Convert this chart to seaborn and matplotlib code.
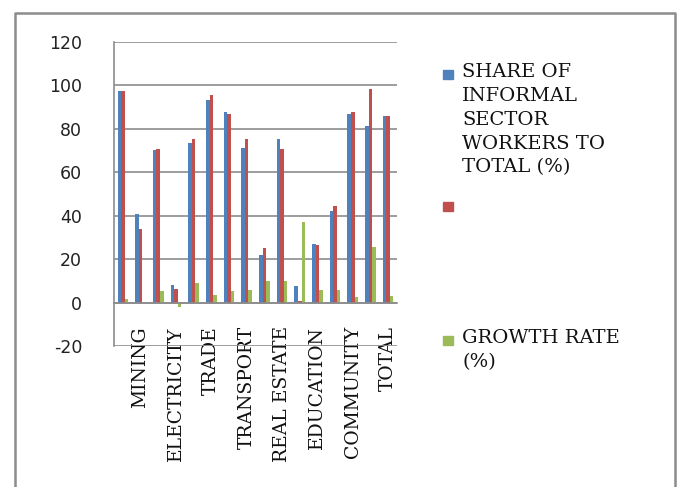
import numpy as np
import pandas as pd
import matplotlib
matplotlib.use("Agg")
import matplotlib.pyplot as plt
from matplotlib.patches import Rectangle
from matplotlib.lines import Line2D
import seaborn as sns

sectors = ["AGRICULTURE", "MINING", "MANUFACTURING", "ELECTRICITY",
           "CONSTRUCTION", "TRADE", "HOTELS", "TRANSPORT", "FINANCE",
           "REAL ESTATE", "PUBLIC ADMINISTRATION", "EDUCATION", "HEALTH",
           "COMMUNITY", "HOUSEHOLDS", "TOTAL"]
share_a = [97.2, 40.6, 70.1, 8.3, 73.5, 93.1, 87.7, 71.4,
           21.9, 75.5, 7.7, 27.1, 42.4, 86.7, 81.3, 86.1]
share_b = [97.2, 33.7, 70.7, 6.4, 75.5, 95.4, 86.7, 75.5,
           25.3, 70.7, 0.8, 26.5, 44.3, 87.9, 98.5, 86.1]
growth = [1.8, 0.0, 5.4, -2.0, 8.9, 3.5, 5.4, 6.0,
          10.1, 10.1, 37.2, 6.0, 6.0, 2.5, 25.4, 3.1]

series_names = ["share_a", "share_b", "growth"]
legend_labels = ["SHARE OF\nINFORMAL\nSECTOR\nWORKERS TO\nTOTAL (%)", "",
                 "GROWTH RATE\n(%)"]
colors = ["#4F81BD", "#C0504D", "#9BBB59"]
yticks = [-20, 0, 20, 40, 60, 80, 100, 120]

df = pd.DataFrame({"sector": sectors * 3,
                   "value": share_a + share_b + growth,
                   "series": np.repeat(series_names, len(sectors))})

sns.set_theme(style="white")
plt.rcParams["font.family"] = ["DejaVu Sans"]
grey = "#8c8c8c"

fig = plt.figure(figsize=(6.81, 4.87), dpi=100)
ax = fig.add_axes([0.1674, 0.2895, 0.4156, 0.6243])

sns.barplot(data=df, x="sector", y="value", hue="series", order=sectors,
            hue_order=series_names, palette=colors, width=0.6, gap=0,
            saturation=1, errorbar=None, legend=False, linewidth=0, ax=ax)

ax.set_ylim(-20, 120)
ax.set_yticks(yticks)
ax.set_yticklabels([str(v) for v in yticks], fontsize=12.5, color="#222222")
ax.yaxis.grid(True, color=grey, linewidth=1.2)
ax.set_axisbelow(True)
ax.set_xlabel("")
ax.set_ylabel("")

for side in ["top", "right"]:
    ax.spines[side].set_visible(False)
ax.spines["bottom"].set_position(("data", 0))
ax.spines["bottom"].set_color(grey)
ax.spines["left"].set_color(grey)
ax.spines["bottom"].set_linewidth(1.2)
ax.spines["left"].set_linewidth(1.2)

ax.set_xticks(range(len(sectors)))
ax.set_xticklabels([s if i % 2 else "" for i, s in enumerate(sectors)],
                   rotation=90, family="DejaVu Serif", fontsize=13.5,
                   va="top", ha="center", color="#111111")
ax.set_xticks(np.arange(-0.5, len(sectors)), minor=True)
ax.tick_params(axis="x", which="major", length=0, pad=17)
ax.tick_params(axis="x", which="minor", length=7, color=grey, width=1.2,
               direction="out")
ax.tick_params(axis="y", length=7, color=grey, width=1.2, direction="out",
               pad=16)
ax.set_xlim(-0.5, len(sectors) - 0.5)

# legend, drawn by hand so the swatch sits on the first line
W, H = 681, 487
legend_tops = [74, 206, 340]
for col, lab, yc in zip(colors, legend_labels, legend_tops):
    fig.patches.append(Rectangle((443 / W, 1 - (yc + 5) / H), 10 / W, 9 / H,
                                 transform=fig.transFigure, color=col))
    if lab:
        fig.text(462 / W, 1 - (yc - 11) / H, lab, family="DejaVu Serif",
                 fontsize=14, va="top", ha="left", linespacing=1.42,
                 color="#111111")

# outer frame (left, top, right)
fig.lines.append(Line2D([15 / W, 15 / W, 675 / W, 675 / W],
                        [0, 1 - 13 / H, 1 - 13 / H, 0],
                        transform=fig.transFigure, color=grey, linewidth=1.8))

fig.savefig("out.png", dpi=100)
